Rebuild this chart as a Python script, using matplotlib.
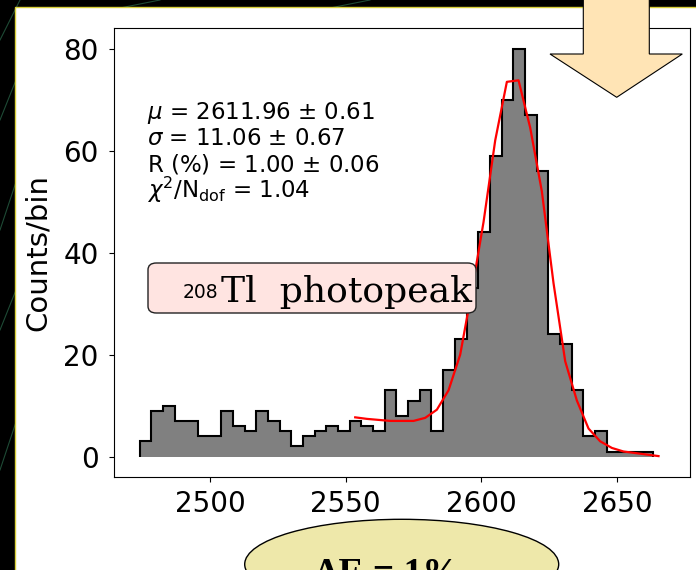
import numpy as np
import matplotlib
matplotlib.use("Agg")
import matplotlib.pyplot as plt
from matplotlib.patches import Rectangle, Polygon, Ellipse, FancyBboxPatch
from matplotlib.lines import Line2D

W, H = 696, 570

# Histogram of the 208Tl peak region.
bin_edges = np.linspace(2474.0, 2663.4, 45)
counts = [3, 9, 10, 7, 7, 4, 4, 9, 6, 5,
          9, 7, 5, 2, 4, 5, 6, 5, 7, 6,
          5, 13, 8, 11, 13, 5, 17, 23, 33, 44,
          59, 70, 80, 67, 56, 24, 22, 13, 4, 5,
          1, 1, 1, 1]

# Fit curve, read at the bin centres.
fit_x = [2553.5, 2557.8, 2562.1, 2566.4, 2570.7, 2575.0, 2579.3, 2583.6,
         2587.9, 2592.2, 2596.5, 2600.8, 2605.1, 2609.4, 2613.7, 2618.0,
         2622.3, 2626.6, 2630.9, 2635.2, 2639.5, 2643.8, 2648.1, 2652.4,
         2656.7, 2661.0, 2665.3]
fit_y = [7.7, 7.4, 7.2, 7.0, 7.0, 7.0, 7.6, 9.2, 13.0, 20.0,
         32.5, 46.0, 62.0, 73.5, 73.8, 64.5, 52.0, 34.0, 18.7, 11.0,
         5.5, 3.0, 1.7, 1.0, 0.7, 0.4, 0.1]

stats_lines = [
    r"$\mu$ = 2611.96 $\pm$ 0.61",
    r"$\sigma$ = 11.06 $\pm$ 0.67",
    r"R (%) = 1.00 $\pm$ 0.06",
    r"$\chi^2$/N$_{\rm dof}$ = 1.04",
]
xticks = [2500, 2550, 2600, 2650]
yticks = [0, 20, 40, 60, 80]


def fx(x):
    """ Pixel column to figure fraction. """
    return x / W


def fy(y):
    """ Pixel row (from top) to figure fraction. """
    return 1 - y / H


fig = plt.figure(figsize=(W / 100, H / 100), dpi=100, facecolor="black")

# Dark slide background with a few green streaks.
for x0, y0, x1, y1 in [(0, 40, 20, 0), (0, 120, 20, 70), (0, 230, 20, 170),
                       (0, 330, 20, 280), (0, 470, 20, 410), (120, 8, 160, 0),
                       (330, 8, 370, 0)]:
    fig.add_artist(Line2D([fx(x0), fx(x1)], [fy(y0), fy(y1)],
                          color="#1e4a35", lw=0.8, zorder=-2))

# White panel holding the chart.
fig.add_artist(Rectangle((fx(15), -0.01), 1.05, fy(7) + 0.01,
                         transform=fig.transFigure, facecolor="white",
                         edgecolor="#d8cf3a", lw=1.0, zorder=-1))

ax = fig.add_axes([fx(114), fy(477), fx(690) - fx(114), fy(28.3) - fy(477)])
ax.stairs(counts, bin_edges, fill=True, baseline=0, facecolor="grey",
          edgecolor="black", linewidth=1.5)
ax.plot(fit_x, fit_y, color="red", lw=1.6)

ax.set_xlim(2464.6, 2676.9)
ax.set_ylim(-4, 84)
ax.set_xticks(xticks)
ax.set_yticks(yticks)
ax.tick_params(labelsize=20)
ax.tick_params(axis="x", pad=6)
ax.tick_params(axis="y", pad=7.5)
ax.set_ylabel("Counts/bin", fontsize=21, labelpad=8)

for k, line in enumerate(stats_lines):
    base = 118.5 + 26.6 * k
    ax.text((146.7 - 114) / 576, (477 - base) / 448.7, line,
            transform=ax.transAxes, fontsize=16.5, va="baseline", ha="left")

# Overlays pasted on the slide.
fig.add_artist(FancyBboxPatch((fx(148), fy(313)), fx(476) - fx(148),
                              fy(263) - fy(313),
                              boxstyle="round,pad=0,rounding_size=0.012",
                              transform=fig.transFigure, facecolor="#ffe4e1",
                              edgecolor="#222222", lw=1.0, zorder=5))
fig.text(fx(183), fy(298), "208", fontsize=13.5, family="DejaVu Sans",
         va="baseline", ha="left", zorder=6)
fig.text(fx(221), fy(301.7), "Tl  photopeak", fontsize=26,
         family="DejaVu Serif", va="baseline", ha="left", zorder=6)

arrow_px = [(583.3, -2), (649.3, -2), (649.3, 54), (682.3, 54),
            (616.7, 97.3), (550, 54), (583.3, 54)]
fig.add_artist(Polygon([(fx(x), fy(y)) for x, y in arrow_px], closed=True,
                       transform=fig.transFigure, facecolor="#ffe4b5",
                       edgecolor="black", lw=0.8, zorder=5))

fig.add_artist(Ellipse((fx(401.7), fy(564.3)), 314 / W, 90 / H,
                       transform=fig.transFigure, facecolor="#eee8aa",
                       edgecolor="black", lw=1.0, zorder=5))
fig.text(fx(387.5), fy(557), "\u0394E = 1%", fontsize=27,
         family="Liberation Serif", weight="bold", ha="center", va="top",
         zorder=6)

fig.savefig("out.png", dpi=100, facecolor=fig.get_facecolor())
